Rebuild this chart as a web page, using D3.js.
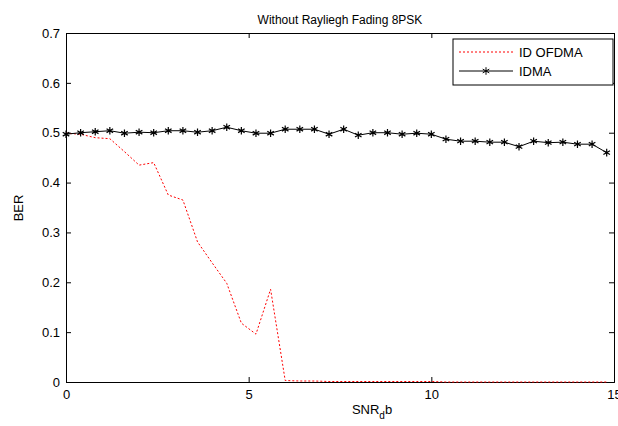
<!DOCTYPE html>
<html><head><meta charset="utf-8">
<script src="https://cdn.jsdelivr.net/npm/d3@7"></script>
<style>body{margin:0;background:#fff;font-family:Arial,"Liberation Sans",sans-serif}</style>
</head><body><div id="chart"></div>
<script>
// SNR grid, step 0.4
const snr = d3.range(38).map(i => +(i * 0.4).toFixed(1));
const idma = [0.497,0.500,0.502,0.504,0.499,0.501,0.500,0.504,0.504,0.501,0.504,0.511,0.504,0.499,0.499,0.507,0.507,0.507,0.497,0.507,
  0.495,0.500,0.500,0.497,0.499,0.497,0.487,0.483,0.483,0.481,0.481,0.472,0.483,0.480,0.481,0.477,0.477,0.460];
const ofdma = [0.499,0.497,0.490,0.488,0.462,0.435,0.440,0.375,0.365,0.281,0.239,0.198,0.118,0.096,0.186,0.003,0.002,0.002,0.001,0.001,
  0.001,0.001,0.001,0.001,0.001,0.001,0,0,0,0,0,0,0,0,0,0,0,0];
const xTicks = [0,5,10,15];
const yTicks = [0,0.1,0.2,0.3,0.4,0.5,0.6,0.7];

const W = 618, H = 426;
const m = {left: 66, right: 4, top: 33, bottom: 44};
const svg = d3.select('#chart').append('svg').attr('width', W).attr('height', H);
const x = d3.scaleLinear([0, 15], [m.left, W - m.right]);
const y = d3.scaleLinear([0, 0.7], [H - m.bottom, m.top]);

//axes with ticks inside, box like matlab
svg.append('g').attr('transform', `translate(0,${H - m.bottom})`)
  .call(d3.axisBottom(x).tickValues(xTicks).tickSize(-5).tickPadding(8).tickFormat(d3.format('d')));
svg.append('g').attr('transform', `translate(${m.left},0)`)
  .call(d3.axisLeft(y).tickValues(yTicks).tickSize(-5).tickPadding(6).tickFormat(d => d === 0 ? '0' : d3.format('.1f')(d)));
svg.append('g').attr('transform', `translate(0,${m.top})`)
  .call(d3.axisTop(x).tickValues(xTicks).tickSize(-5).tickFormat(''));
svg.append('g').attr('transform', `translate(${W - m.right},0)`)
  .call(d3.axisRight(y).tickValues(yTicks).tickSize(-5).tickFormat(''));
svg.selectAll('.domain').attr('stroke', '#000');
svg.selectAll('.tick text').attr('font-size', 13).attr('font-family', 'Arial,"Liberation Sans",sans-serif');

const line = d3.line().x((d, i) => x(snr[i])).y(d => y(d));
svg.append('path').datum(ofdma).attr('d', line).attr('fill', 'none')
  .attr('stroke', 'red').attr('stroke-width', 1).attr('stroke-dasharray', '2,2');
svg.append('path').datum(idma).attr('d', line).attr('fill', 'none')
  .attr('stroke', '#000').attr('stroke-width', 1);

const star = d3.symbol().type(d3.symbolAsterisk).size(40);
svg.append('g').selectAll('path').data(idma).join('path')
  .attr('transform', (d, i) => `translate(${x(snr[i])},${y(d)})`)
  .attr('d', star).attr('fill', 'none').attr('stroke', '#000').attr('stroke-width', 1.2);

//title + labels
svg.append('text').attr('x', (m.left + W - m.right) / 2).attr('y', 24).attr('text-anchor', 'middle')
  .attr('font-size', 12).text('Without Rayliegh Fading 8PSK');
const xl = svg.append('text').attr('x', 372).attr('y', 414).attr('text-anchor', 'middle').attr('font-size', 13);
xl.append('tspan').text('SNR');
xl.append('tspan').attr('dy', 5).attr('font-size', 10).text('d');
xl.append('tspan').attr('dy', -5).text('b');
svg.append('text').attr('transform', 'translate(23,208) rotate(-90)').attr('text-anchor', 'middle')
  .attr('font-size', 13).text('BER');

//legend
const lg = svg.append('g').attr('transform', 'translate(453,39)');
lg.append('rect').attr('width', 160).attr('height', 46).attr('fill', '#fff').attr('stroke', '#000');
lg.append('line').attr('x1', 6).attr('x2', 60).attr('y1', 13).attr('y2', 13)
  .attr('stroke', 'red').attr('stroke-dasharray', '2,2');
lg.append('line').attr('x1', 6).attr('x2', 60).attr('y1', 32).attr('y2', 32).attr('stroke', '#000');
lg.append('path').attr('transform', 'translate(33,32)').attr('d', star).attr('fill', 'none').attr('stroke', '#000');
lg.append('text').attr('x', 66).attr('y', 18).attr('font-size', 13).text('ID OFDMA');
lg.append('text').attr('x', 66).attr('y', 37).attr('font-size', 13).text('IDMA');
</script></body></html>
